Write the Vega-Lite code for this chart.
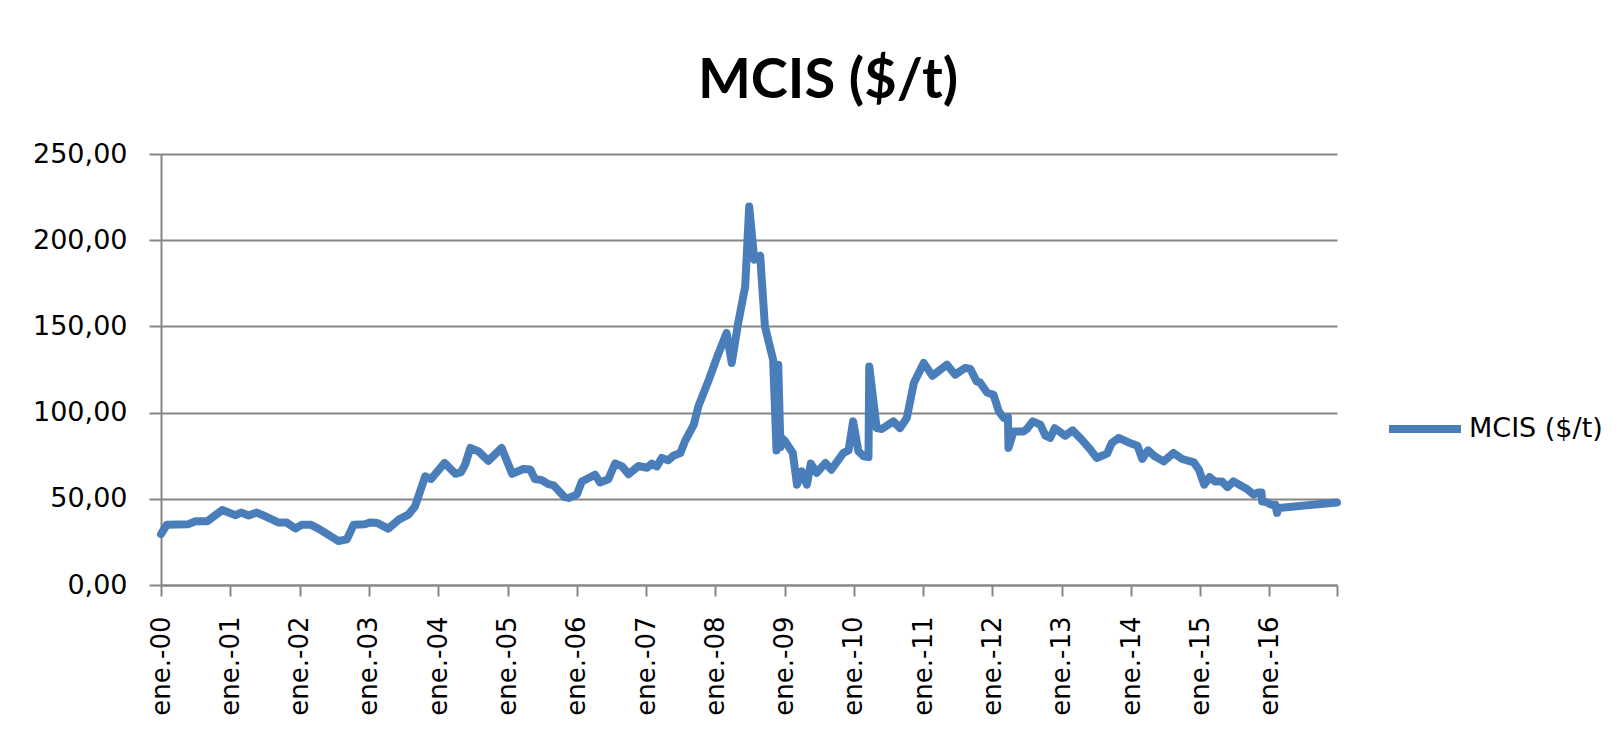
{
  "$schema": "https://vega.github.io/schema/vega-lite/v6.json",
  "width": 1176,
  "height": 431,
  "autosize": {"type": "none"},
  "padding": {"left": 161, "top": 154, "right": 282, "bottom": 146},
  "background": "white",
  "title": {
    "text": "MCIS ($/t)",
    "font": "Lato",
    "fontWeight": "bold",
    "fontSize": 56,
    "color": "black",
    "anchor": "middle",
    "frame": "group",
    "dx": 79,
    "dy": 70,
    "baseline": "alphabetic",
    "offset": 56
  },
  "data": {
    "values": [
      {"fecha": "2000-01-01", "mcis": 29.5},
      {"fecha": "2000-02-01", "mcis": 35},
      {"fecha": "2000-05-25", "mcis": 35.3},
      {"fecha": "2000-07-01", "mcis": 37},
      {"fecha": "2000-09-01", "mcis": 37},
      {"fecha": "2000-11-19", "mcis": 43.5},
      {"fecha": "2001-01-28", "mcis": 40.5},
      {"fecha": "2001-02-26", "mcis": 42},
      {"fecha": "2001-04-07", "mcis": 40.3},
      {"fecha": "2001-05-19", "mcis": 42},
      {"fecha": "2001-07-01", "mcis": 40},
      {"fecha": "2001-09-13", "mcis": 36.2},
      {"fecha": "2001-10-25", "mcis": 36.2},
      {"fecha": "2001-12-10", "mcis": 32.8},
      {"fecha": "2002-01-13", "mcis": 35},
      {"fecha": "2002-02-27", "mcis": 35},
      {"fecha": "2002-04-10", "mcis": 32.7},
      {"fecha": "2002-07-25", "mcis": 25.5},
      {"fecha": "2002-09-07", "mcis": 26.5},
      {"fecha": "2002-10-13", "mcis": 35},
      {"fecha": "2002-12-10", "mcis": 35.2},
      {"fecha": "2003-01-10", "mcis": 36.3},
      {"fecha": "2003-02-13", "mcis": 36},
      {"fecha": "2003-04-13", "mcis": 32.7},
      {"fecha": "2003-06-07", "mcis": 37.9},
      {"fecha": "2003-07-28", "mcis": 40.8},
      {"fecha": "2003-09-01", "mcis": 45.6},
      {"fecha": "2003-10-25", "mcis": 63},
      {"fecha": "2003-11-25", "mcis": 61.5},
      {"fecha": "2004-02-04", "mcis": 70.8},
      {"fecha": "2004-04-01", "mcis": 64.5},
      {"fecha": "2004-05-01", "mcis": 65.5},
      {"fecha": "2004-05-22", "mcis": 69.8},
      {"fecha": "2004-06-19", "mcis": 79.5},
      {"fecha": "2004-08-01", "mcis": 77.5},
      {"fecha": "2004-09-22", "mcis": 72},
      {"fecha": "2004-12-01", "mcis": 79.5},
      {"fecha": "2005-01-25", "mcis": 64.5},
      {"fecha": "2005-03-25", "mcis": 67.3},
      {"fecha": "2005-05-01", "mcis": 67},
      {"fecha": "2005-05-25", "mcis": 61.5},
      {"fecha": "2005-07-01", "mcis": 60.8},
      {"fecha": "2005-08-04", "mcis": 58.5},
      {"fecha": "2005-09-01", "mcis": 57.8},
      {"fecha": "2005-10-28", "mcis": 51},
      {"fecha": "2005-11-19", "mcis": 50.5},
      {"fecha": "2006-01-01", "mcis": 52.4},
      {"fecha": "2006-01-28", "mcis": 60},
      {"fecha": "2006-04-07", "mcis": 64},
      {"fecha": "2006-05-04", "mcis": 59.5},
      {"fecha": "2006-06-16", "mcis": 61.3},
      {"fecha": "2006-07-22", "mcis": 70.5},
      {"fecha": "2006-08-28", "mcis": 68.8},
      {"fecha": "2006-10-01", "mcis": 64.3},
      {"fecha": "2006-11-22", "mcis": 69},
      {"fecha": "2007-01-07", "mcis": 68},
      {"fecha": "2007-02-01", "mcis": 70.4},
      {"fecha": "2007-02-27", "mcis": 68.8},
      {"fecha": "2007-03-25", "mcis": 73.7},
      {"fecha": "2007-04-28", "mcis": 72.3},
      {"fecha": "2007-05-25", "mcis": 75},
      {"fecha": "2007-07-01", "mcis": 76.6},
      {"fecha": "2007-07-25", "mcis": 83.3},
      {"fecha": "2007-09-10", "mcis": 93},
      {"fecha": "2007-10-04", "mcis": 103.6},
      {"fecha": "2007-11-28", "mcis": 119},
      {"fecha": "2008-01-19", "mcis": 134.6},
      {"fecha": "2008-03-01", "mcis": 146.2},
      {"fecha": "2008-03-28", "mcis": 128.8},
      {"fecha": "2008-05-01", "mcis": 152},
      {"fecha": "2008-06-07", "mcis": 173.2},
      {"fecha": "2008-06-28", "mcis": 219.6},
      {"fecha": "2008-07-25", "mcis": 188.7},
      {"fecha": "2008-08-25", "mcis": 191},
      {"fecha": "2008-09-19", "mcis": 150},
      {"fecha": "2008-11-01", "mcis": 130.7},
      {"fecha": "2008-11-10", "mcis": 105},
      {"fecha": "2008-11-19", "mcis": 78},
      {"fecha": "2008-11-28", "mcis": 127.8},
      {"fecha": "2008-12-10", "mcis": 80},
      {"fecha": "2008-12-20", "mcis": 85},
      {"fecha": "2009-01-04", "mcis": 83.3},
      {"fecha": "2009-02-13", "mcis": 76.6},
      {"fecha": "2009-03-07", "mcis": 58.2},
      {"fecha": "2009-04-01", "mcis": 65.9},
      {"fecha": "2009-04-28", "mcis": 58.2},
      {"fecha": "2009-05-19", "mcis": 70.4},
      {"fecha": "2009-06-19", "mcis": 65},
      {"fecha": "2009-08-04", "mcis": 70.8},
      {"fecha": "2009-09-04", "mcis": 66.9},
      {"fecha": "2009-11-07", "mcis": 76.6},
      {"fecha": "2009-12-04", "mcis": 78.1},
      {"fecha": "2009-12-28", "mcis": 94.9},
      {"fecha": "2010-01-25", "mcis": 77.5},
      {"fecha": "2010-02-22", "mcis": 74.6},
      {"fecha": "2010-03-19", "mcis": 74.2},
      {"fecha": "2010-03-23", "mcis": 126.8},
      {"fecha": "2010-05-01", "mcis": 91},
      {"fecha": "2010-05-28", "mcis": 90.5},
      {"fecha": "2010-07-28", "mcis": 94.9},
      {"fecha": "2010-09-01", "mcis": 91},
      {"fecha": "2010-10-07", "mcis": 96.9},
      {"fecha": "2010-11-13", "mcis": 117.2},
      {"fecha": "2011-01-04", "mcis": 128.8},
      {"fecha": "2011-02-19", "mcis": 121.4},
      {"fecha": "2011-05-07", "mcis": 127.8},
      {"fecha": "2011-06-19", "mcis": 122},
      {"fecha": "2011-08-10", "mcis": 125.9},
      {"fecha": "2011-09-07", "mcis": 125.3},
      {"fecha": "2011-10-10", "mcis": 118.1},
      {"fecha": "2011-10-28", "mcis": 117.5},
      {"fecha": "2011-12-04", "mcis": 111.7},
      {"fecha": "2012-01-07", "mcis": 110.4},
      {"fecha": "2012-02-04", "mcis": 100.7},
      {"fecha": "2012-03-01", "mcis": 96.9},
      {"fecha": "2012-03-23", "mcis": 97.4},
      {"fecha": "2012-03-26", "mcis": 79.5},
      {"fecha": "2012-04-22", "mcis": 89.1},
      {"fecha": "2012-06-13", "mcis": 89.1},
      {"fecha": "2012-07-01", "mcis": 90.5},
      {"fecha": "2012-08-01", "mcis": 94.9},
      {"fecha": "2012-09-10", "mcis": 93},
      {"fecha": "2012-10-07", "mcis": 86.6},
      {"fecha": "2012-11-01", "mcis": 85.3},
      {"fecha": "2012-11-25", "mcis": 91},
      {"fecha": "2013-01-19", "mcis": 86.6},
      {"fecha": "2013-02-27", "mcis": 89.7},
      {"fecha": "2013-04-16", "mcis": 84.3},
      {"fecha": "2013-06-01", "mcis": 78.5},
      {"fecha": "2013-07-04", "mcis": 73.7},
      {"fecha": "2013-08-01", "mcis": 75},
      {"fecha": "2013-08-28", "mcis": 76.2},
      {"fecha": "2013-09-22", "mcis": 82.4},
      {"fecha": "2013-10-28", "mcis": 85.3},
      {"fecha": "2013-12-19", "mcis": 82.7},
      {"fecha": "2014-02-04", "mcis": 80.8},
      {"fecha": "2014-03-01", "mcis": 73.1},
      {"fecha": "2014-04-01", "mcis": 78.1},
      {"fecha": "2014-05-07", "mcis": 74.6},
      {"fecha": "2014-06-22", "mcis": 71.7},
      {"fecha": "2014-08-13", "mcis": 76.6},
      {"fecha": "2014-09-28", "mcis": 73.1},
      {"fecha": "2014-11-28", "mcis": 71.1},
      {"fecha": "2014-12-25", "mcis": 66.9},
      {"fecha": "2015-01-22", "mcis": 58.2},
      {"fecha": "2015-02-19", "mcis": 62.6},
      {"fecha": "2015-03-19", "mcis": 60.1},
      {"fecha": "2015-04-25", "mcis": 60.1},
      {"fecha": "2015-05-25", "mcis": 56.8},
      {"fecha": "2015-06-25", "mcis": 60.1},
      {"fecha": "2015-09-04", "mcis": 55.7},
      {"fecha": "2015-10-10", "mcis": 52.4},
      {"fecha": "2015-11-04", "mcis": 53.7},
      {"fecha": "2015-11-20", "mcis": 53.7},
      {"fecha": "2015-11-23", "mcis": 48.5},
      {"fecha": "2015-12-19", "mcis": 47.9},
      {"fecha": "2016-01-10", "mcis": 46.6},
      {"fecha": "2016-02-01", "mcis": 46.6},
      {"fecha": "2016-02-10", "mcis": 41.8},
      {"fecha": "2016-02-19", "mcis": 44.7},
      {"fecha": "2016-12-22", "mcis": 47.9}
    ]
  },
  "mark": {
    "type": "line",
    "strokeWidth": 8,
    "strokeJoin": "round",
    "strokeCap": "round",
    "clip": false
  },
  "encoding": {
    "x": {
      "field": "fecha",
      "type": "temporal",
      "title": null,
      "scale": {"type": "utc", "domain": ["2000-01-01", "2016-12-22"], "nice": false},
      "axis": {
        "values": [
          {"year": 2000, "month": 1, "date": 1, "utc": true},
          {"year": 2001, "month": 1, "date": 1, "utc": true},
          {"year": 2002, "month": 1, "date": 1, "utc": true},
          {"year": 2003, "month": 1, "date": 1, "utc": true},
          {"year": 2004, "month": 1, "date": 1, "utc": true},
          {"year": 2005, "month": 1, "date": 1, "utc": true},
          {"year": 2006, "month": 1, "date": 1, "utc": true},
          {"year": 2007, "month": 1, "date": 1, "utc": true},
          {"year": 2008, "month": 1, "date": 1, "utc": true},
          {"year": 2009, "month": 1, "date": 1, "utc": true},
          {"year": 2010, "month": 1, "date": 1, "utc": true},
          {"year": 2011, "month": 1, "date": 1, "utc": true},
          {"year": 2012, "month": 1, "date": 1, "utc": true},
          {"year": 2013, "month": 1, "date": 1, "utc": true},
          {"year": 2014, "month": 1, "date": 1, "utc": true},
          {"year": 2015, "month": 1, "date": 1, "utc": true},
          {"year": 2016, "month": 1, "date": 1, "utc": true},
          {"year": 2016, "month": 12, "date": 22, "utc": true}
        ],
        "labelExpr": "utcFormat(datum.value, '%m-%d') == '01-01' ? 'ene.-' + utcFormat(datum.value, '%y') : ''",
        "labelAngle": -90,
        "labelFont": "DejaVu Sans",
        "labelFontSize": 26,
        "labelColor": "black",
        "labelPadding": 20,
        "labelOverlap": false,
        "labelFlush": false,
        "grid": false,
        "domainColor": "#868686",
        "domainWidth": 2,
        "tickColor": "#868686",
        "tickWidth": 2,
        "tickSize": 11
      }
    },
    "y": {
      "field": "mcis",
      "type": "quantitative",
      "title": null,
      "scale": {"domain": [0, 250], "nice": false},
      "axis": {
        "values": [0, 50, 100, 150, 200, 250],
        "labelExpr": "replace(format(datum.value, '.2f'), '.', ',')",
        "labelFont": "DejaVu Sans",
        "labelFontSize": 27,
        "labelColor": "black",
        "labelPadding": 22,
        "grid": true,
        "gridColor": "#868686",
        "gridWidth": 2,
        "domainColor": "#868686",
        "domainWidth": 2,
        "tickColor": "#868686",
        "tickWidth": 2,
        "tickSize": 12
      }
    },
    "color": {
      "datum": "MCIS ($/t)",
      "type": "nominal",
      "scale": {"range": ["#4a7ebb"]},
      "legend": {
        "title": null,
        "orient": "none",
        "legendX": 1224,
        "legendY": 235,
        "symbolType": "stroke",
        "symbolSize": 5184,
        "symbolStrokeWidth": 8,
        "labelFont": "DejaVu Sans",
        "labelFontSize": 27,
        "labelColor": "black",
        "labelOffset": 4,
        "labelLimit": 400
      }
    }
  },
  "config": {
    "view": {"stroke": null}
  }
}
